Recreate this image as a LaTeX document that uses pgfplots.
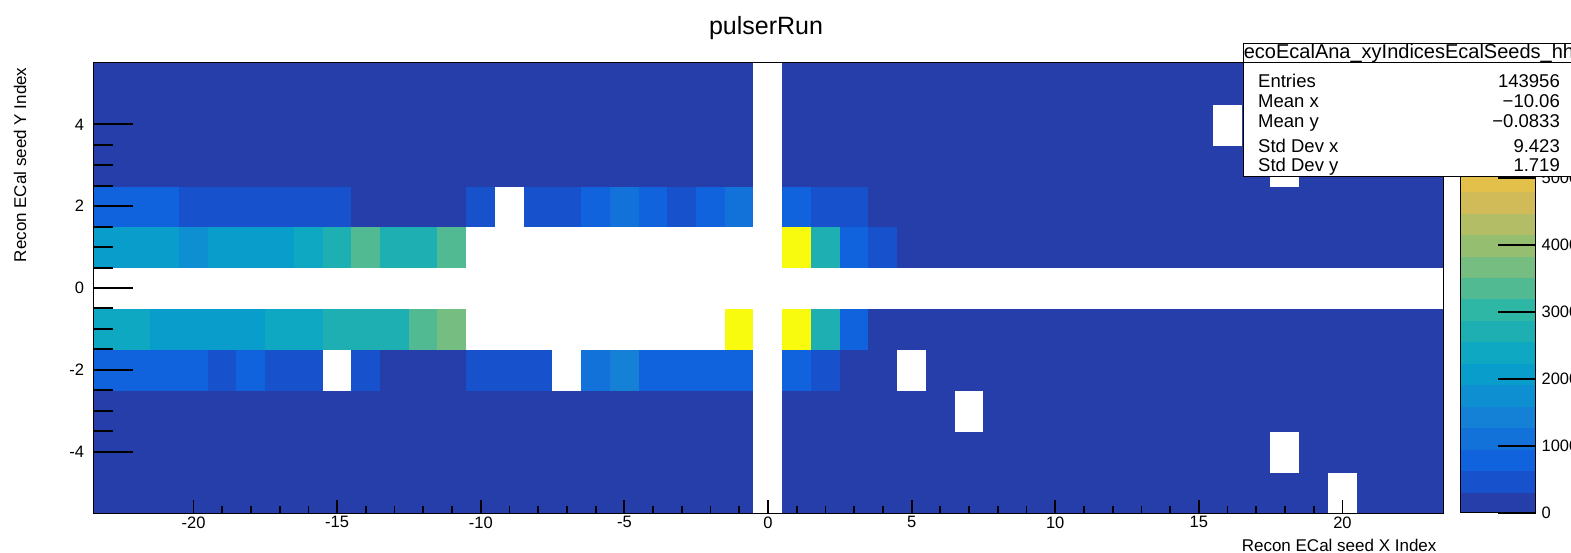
\documentclass[border=0pt]{standalone}
\usepackage{pgfplots}
\pgfplotsset{compat=1.18}
\usepackage{fontspec}
\setmainfont{Liberation Sans}
\pgfplotsset{
  /pgf/number format/1000 sep={},
  colormap={rootbird}{
    rgb=(1,1,1)
    rgb=(0.1486,0.2438,0.6649)
    rgb=(0.0890,0.3212,0.8006)
    rgb=(0.0630,0.3887,0.8624)
    rgb=(0.0705,0.4464,0.8505)
    rgb=(0.0780,0.5041,0.8385)
    rgb=(0.0561,0.5592,0.8197)
    rgb=(0.0342,0.6143,0.8008)
    rgb=(0.0546,0.6571,0.7616)
    rgb=(0.1174,0.6874,0.7021)
    rgb=(0.1802,0.7178,0.6425)
    rgb=(0.3202,0.7304,0.5720)
    rgb=(0.4601,0.7429,0.5015)
    rgb=(0.5878,0.7459,0.4429)
    rgb=(0.7032,0.7394,0.3964)
    rgb=(0.8186,0.7328,0.3499)
    rgb=(0.8894,0.7542,0.2887)
    rgb=(0.9602,0.7755,0.2274)
    rgb=(0.9918,0.8256,0.1682)
    rgb=(0.9841,0.9044,0.1111)
    rgb=(0.9764,0.9832,0.0539)
    rgb=(0.9764,0.9832,0.0539)
  }
}
\newcommand{\tickfont}{\fontsize{16.5}{18}\selectfont}
\newcommand{\labfont}{\fontsize{17}{19}\selectfont}
\newcommand{\statfont}{\fontsize{18.5}{20}\selectfont}
\begin{document}
\begin{tikzpicture}[x=1pt,y=1pt]
\begin{axis}[
  name=ax,
  scale only axis, width=1350pt, height=450pt,
  xmin=-23.5, xmax=23.5, ymin=-5.5, ymax=5.5,
  enlargelimits=false,
  axis on top,
  colormap name=rootbird, colormap access=piecewise constant,
  point meta min=-336, point meta max=6720,
  xtick={-20,-15,...,20}, minor x tick num=4,
  ytick=\empty,
  xtick pos=left, tick align=inside,
  major tick length=13pt, minor tick length=7pt,
  every tick/.style={black, line width=1.8pt},
  axis line style={black, line width=1pt},
  xticklabel style={font=\tickfont},
  /pgf/number format/assume math mode=true,
  colorbar,
  colorbar style={
    at={(parent axis.north east)}, anchor=north west, xshift=9pt,
    scale only axis, width=75pt, height=450pt,
    ymin=0, ymax=6720,
    ytick={0,1000,...,6000},
    scaled y ticks=false,
    yticklabel pos=right, ytick pos=right,
    tick align=inside,
    major tick length=38pt,
    every tick/.style={black, line width=2pt},
    axis line style={black, line width=1pt},
    yticklabel style={font=\tickfont, xshift=2.5pt},
    /pgf/number format/assume math mode=true,
    /pgf/number format/1000 sep={},
  },
]
\addplot[matrix plot*, mesh/cols=47, point meta=explicit] table[meta=c, row sep=\\] {
x y c \\
-23 -5 150 \\ -22 -5 150 \\ -21 -5 150 \\ -20 -5 150 \\ -19 -5 150 \\ -18 -5 150 \\ -17 -5 150 \\ -16 -5 150 \\ -15 -5 150 \\ -14 -5 150 \\ -13 -5 150 \\ -12 -5 150 \\ -11 -5 150 \\ -10 -5 150 \\ -9 -5 150 \\ -8 -5 150 \\ -7 -5 150 \\ -6 -5 150 \\ -5 -5 150 \\ -4 -5 150 \\ -3 -5 150 \\ -2 -5 150 \\ -1 -5 150 \\ 0 -5 -150 \\ 1 -5 150 \\ 2 -5 150 \\ 3 -5 150 \\ 4 -5 150 \\ 5 -5 150 \\ 6 -5 150 \\ 7 -5 150 \\ 8 -5 150 \\ 9 -5 150 \\ 10 -5 150 \\ 11 -5 150 \\ 12 -5 150 \\ 13 -5 150 \\ 14 -5 150 \\ 15 -5 150 \\ 16 -5 150 \\ 17 -5 150 \\ 18 -5 150 \\ 19 -5 150 \\ 20 -5 -150 \\ 21 -5 150 \\ 22 -5 150 \\ 23 -5 150 \\
-23 -4 150 \\ -22 -4 150 \\ -21 -4 150 \\ -20 -4 150 \\ -19 -4 150 \\ -18 -4 150 \\ -17 -4 150 \\ -16 -4 150 \\ -15 -4 150 \\ -14 -4 150 \\ -13 -4 150 \\ -12 -4 150 \\ -11 -4 150 \\ -10 -4 150 \\ -9 -4 150 \\ -8 -4 150 \\ -7 -4 150 \\ -6 -4 150 \\ -5 -4 150 \\ -4 -4 150 \\ -3 -4 150 \\ -2 -4 150 \\ -1 -4 150 \\ 0 -4 -150 \\ 1 -4 150 \\ 2 -4 150 \\ 3 -4 150 \\ 4 -4 150 \\ 5 -4 150 \\ 6 -4 150 \\ 7 -4 150 \\ 8 -4 150 \\ 9 -4 150 \\ 10 -4 150 \\ 11 -4 150 \\ 12 -4 150 \\ 13 -4 150 \\ 14 -4 150 \\ 15 -4 150 \\ 16 -4 150 \\ 17 -4 150 \\ 18 -4 -150 \\ 19 -4 150 \\ 20 -4 150 \\ 21 -4 150 \\ 22 -4 150 \\ 23 -4 150 \\
-23 -3 150 \\ -22 -3 150 \\ -21 -3 150 \\ -20 -3 150 \\ -19 -3 150 \\ -18 -3 150 \\ -17 -3 150 \\ -16 -3 150 \\ -15 -3 150 \\ -14 -3 150 \\ -13 -3 150 \\ -12 -3 150 \\ -11 -3 150 \\ -10 -3 150 \\ -9 -3 150 \\ -8 -3 150 \\ -7 -3 150 \\ -6 -3 150 \\ -5 -3 150 \\ -4 -3 150 \\ -3 -3 150 \\ -2 -3 150 \\ -1 -3 150 \\ 0 -3 -150 \\ 1 -3 150 \\ 2 -3 150 \\ 3 -3 150 \\ 4 -3 150 \\ 5 -3 150 \\ 6 -3 150 \\ 7 -3 -150 \\ 8 -3 150 \\ 9 -3 150 \\ 10 -3 150 \\ 11 -3 150 \\ 12 -3 150 \\ 13 -3 150 \\ 14 -3 150 \\ 15 -3 150 \\ 16 -3 150 \\ 17 -3 150 \\ 18 -3 150 \\ 19 -3 150 \\ 20 -3 150 \\ 21 -3 150 \\ 22 -3 150 \\ 23 -3 150 \\
-23 -2 850 \\ -22 -2 850 \\ -21 -2 850 \\ -20 -2 850 \\ -19 -2 500 \\ -18 -2 850 \\ -17 -2 500 \\ -16 -2 500 \\ -15 -2 -150 \\ -14 -2 500 \\ -13 -2 150 \\ -12 -2 150 \\ -11 -2 150 \\ -10 -2 500 \\ -9 -2 500 \\ -8 -2 500 \\ -7 -2 -150 \\ -6 -2 1150 \\ -5 -2 1500 \\ -4 -2 850 \\ -3 -2 850 \\ -2 -2 850 \\ -1 -2 850 \\ 0 -2 -150 \\ 1 -2 850 \\ 2 -2 500 \\ 3 -2 150 \\ 4 -2 150 \\ 5 -2 -150 \\ 6 -2 150 \\ 7 -2 150 \\ 8 -2 150 \\ 9 -2 150 \\ 10 -2 150 \\ 11 -2 150 \\ 12 -2 150 \\ 13 -2 150 \\ 14 -2 150 \\ 15 -2 150 \\ 16 -2 150 \\ 17 -2 150 \\ 18 -2 150 \\ 19 -2 150 \\ 20 -2 150 \\ 21 -2 150 \\ 22 -2 150 \\ 23 -2 150 \\
-23 -1 2500 \\ -22 -1 2500 \\ -21 -1 2200 \\ -20 -1 2200 \\ -19 -1 2200 \\ -18 -1 2200 \\ -17 -1 2500 \\ -16 -1 2500 \\ -15 -1 2850 \\ -14 -1 2850 \\ -13 -1 2850 \\ -12 -1 3200 \\ -11 -1 3550 \\ -10 -1 -150 \\ -9 -1 -150 \\ -8 -1 -150 \\ -7 -1 -150 \\ -6 -1 -150 \\ -5 -1 -150 \\ -4 -1 -150 \\ -3 -1 -150 \\ -2 -1 -150 \\ -1 -1 6600 \\ 0 -1 -150 \\ 1 -1 6600 \\ 2 -1 2850 \\ 3 -1 850 \\ 4 -1 150 \\ 5 -1 150 \\ 6 -1 150 \\ 7 -1 150 \\ 8 -1 150 \\ 9 -1 150 \\ 10 -1 150 \\ 11 -1 150 \\ 12 -1 150 \\ 13 -1 150 \\ 14 -1 150 \\ 15 -1 150 \\ 16 -1 150 \\ 17 -1 150 \\ 18 -1 150 \\ 19 -1 150 \\ 20 -1 150 \\ 21 -1 150 \\ 22 -1 150 \\ 23 -1 150 \\
-23 0 -150 \\ -22 0 -150 \\ -21 0 -150 \\ -20 0 -150 \\ -19 0 -150 \\ -18 0 -150 \\ -17 0 -150 \\ -16 0 -150 \\ -15 0 -150 \\ -14 0 -150 \\ -13 0 -150 \\ -12 0 -150 \\ -11 0 -150 \\ -10 0 -150 \\ -9 0 -150 \\ -8 0 -150 \\ -7 0 -150 \\ -6 0 -150 \\ -5 0 -150 \\ -4 0 -150 \\ -3 0 -150 \\ -2 0 -150 \\ -1 0 -150 \\ 0 0 -150 \\ 1 0 -150 \\ 2 0 -150 \\ 3 0 -150 \\ 4 0 -150 \\ 5 0 -150 \\ 6 0 -150 \\ 7 0 -150 \\ 8 0 -150 \\ 9 0 -150 \\ 10 0 -150 \\ 11 0 -150 \\ 12 0 -150 \\ 13 0 -150 \\ 14 0 -150 \\ 15 0 -150 \\ 16 0 -150 \\ 17 0 -150 \\ 18 0 -150 \\ 19 0 -150 \\ 20 0 -150 \\ 21 0 -150 \\ 22 0 -150 \\ 23 0 -150 \\
-23 1 2200 \\ -22 1 2200 \\ -21 1 2200 \\ -20 1 1850 \\ -19 1 2200 \\ -18 1 2200 \\ -17 1 2200 \\ -16 1 2500 \\ -15 1 2850 \\ -14 1 3200 \\ -13 1 2850 \\ -12 1 2850 \\ -11 1 3200 \\ -10 1 -150 \\ -9 1 -150 \\ -8 1 -150 \\ -7 1 -150 \\ -6 1 -150 \\ -5 1 -150 \\ -4 1 -150 \\ -3 1 -150 \\ -2 1 -150 \\ -1 1 -150 \\ 0 1 -150 \\ 1 1 6600 \\ 2 1 2850 \\ 3 1 850 \\ 4 1 500 \\ 5 1 150 \\ 6 1 150 \\ 7 1 150 \\ 8 1 150 \\ 9 1 150 \\ 10 1 150 \\ 11 1 150 \\ 12 1 150 \\ 13 1 150 \\ 14 1 150 \\ 15 1 150 \\ 16 1 150 \\ 17 1 150 \\ 18 1 150 \\ 19 1 150 \\ 20 1 150 \\ 21 1 150 \\ 22 1 150 \\ 23 1 150 \\
-23 2 850 \\ -22 2 850 \\ -21 2 850 \\ -20 2 500 \\ -19 2 500 \\ -18 2 500 \\ -17 2 500 \\ -16 2 500 \\ -15 2 500 \\ -14 2 150 \\ -13 2 150 \\ -12 2 150 \\ -11 2 150 \\ -10 2 500 \\ -9 2 -150 \\ -8 2 500 \\ -7 2 500 \\ -6 2 850 \\ -5 2 1150 \\ -4 2 850 \\ -3 2 500 \\ -2 2 850 \\ -1 2 1150 \\ 0 2 -150 \\ 1 2 850 \\ 2 2 500 \\ 3 2 500 \\ 4 2 150 \\ 5 2 150 \\ 6 2 150 \\ 7 2 150 \\ 8 2 150 \\ 9 2 150 \\ 10 2 150 \\ 11 2 150 \\ 12 2 150 \\ 13 2 150 \\ 14 2 150 \\ 15 2 150 \\ 16 2 150 \\ 17 2 150 \\ 18 2 150 \\ 19 2 150 \\ 20 2 150 \\ 21 2 150 \\ 22 2 150 \\ 23 2 150 \\
-23 3 150 \\ -22 3 150 \\ -21 3 150 \\ -20 3 150 \\ -19 3 150 \\ -18 3 150 \\ -17 3 150 \\ -16 3 150 \\ -15 3 150 \\ -14 3 150 \\ -13 3 150 \\ -12 3 150 \\ -11 3 150 \\ -10 3 150 \\ -9 3 150 \\ -8 3 150 \\ -7 3 150 \\ -6 3 150 \\ -5 3 150 \\ -4 3 150 \\ -3 3 150 \\ -2 3 150 \\ -1 3 150 \\ 0 3 -150 \\ 1 3 150 \\ 2 3 150 \\ 3 3 150 \\ 4 3 150 \\ 5 3 150 \\ 6 3 150 \\ 7 3 150 \\ 8 3 150 \\ 9 3 150 \\ 10 3 150 \\ 11 3 150 \\ 12 3 150 \\ 13 3 150 \\ 14 3 150 \\ 15 3 150 \\ 16 3 150 \\ 17 3 150 \\ 18 3 -150 \\ 19 3 150 \\ 20 3 150 \\ 21 3 150 \\ 22 3 150 \\ 23 3 150 \\
-23 4 150 \\ -22 4 150 \\ -21 4 150 \\ -20 4 150 \\ -19 4 150 \\ -18 4 150 \\ -17 4 150 \\ -16 4 150 \\ -15 4 150 \\ -14 4 150 \\ -13 4 150 \\ -12 4 150 \\ -11 4 150 \\ -10 4 150 \\ -9 4 150 \\ -8 4 150 \\ -7 4 150 \\ -6 4 150 \\ -5 4 150 \\ -4 4 150 \\ -3 4 150 \\ -2 4 150 \\ -1 4 150 \\ 0 4 -150 \\ 1 4 150 \\ 2 4 150 \\ 3 4 150 \\ 4 4 150 \\ 5 4 150 \\ 6 4 150 \\ 7 4 150 \\ 8 4 150 \\ 9 4 150 \\ 10 4 150 \\ 11 4 150 \\ 12 4 150 \\ 13 4 150 \\ 14 4 150 \\ 15 4 150 \\ 16 4 -150 \\ 17 4 150 \\ 18 4 150 \\ 19 4 150 \\ 20 4 150 \\ 21 4 150 \\ 22 4 150 \\ 23 4 150 \\
-23 5 150 \\ -22 5 150 \\ -21 5 150 \\ -20 5 150 \\ -19 5 150 \\ -18 5 150 \\ -17 5 150 \\ -16 5 150 \\ -15 5 150 \\ -14 5 150 \\ -13 5 150 \\ -12 5 150 \\ -11 5 150 \\ -10 5 150 \\ -9 5 150 \\ -8 5 150 \\ -7 5 150 \\ -6 5 150 \\ -5 5 150 \\ -4 5 150 \\ -3 5 150 \\ -2 5 150 \\ -1 5 150 \\ 0 5 -150 \\ 1 5 150 \\ 2 5 150 \\ 3 5 150 \\ 4 5 150 \\ 5 5 150 \\ 6 5 150 \\ 7 5 150 \\ 8 5 150 \\ 9 5 150 \\ 10 5 150 \\ 11 5 150 \\ 12 5 150 \\ 13 5 150 \\ 14 5 150 \\ 15 5 150 \\ 16 5 150 \\ 17 5 150 \\ 18 5 150 \\ 19 5 150 \\ 20 5 150 \\ 21 5 150 \\ 22 5 150 \\ 23 5 150 \\
};
\end{axis}
\begin{axis}[
  at={(ax.south west)}, anchor=south west,
  scale only axis, width=1350pt, height=450pt,
  xmin=-23.5, xmax=23.5, ymin=-5.5, ymax=5.5,
  hide x axis,
  axis line style={draw=none},
  ytick={-4,-2,...,4}, minor y tick num=3,
  ytick pos=left, tick align=inside,
  major tick length=40pt, minor tick length=20pt,
  every tick/.style={black, line width=2pt},
  yticklabel style={font=\tickfont, xshift=-5.5pt},
  /pgf/number format/assume math mode=true,
]
\end{axis}
\begin{scope}[shift={(ax.south west)}]
\node[font=\fontsize{25}{28}\selectfont, anchor=base] at (673,478) {pulserRun};
\node[font=\labfont, rotate=90, anchor=east] at (-73,449) {Recon ECal seed Y Index};
\node[font=\labfont, anchor=east] at (1347,-32) {Recon ECal seed X Index};
% stats box
\filldraw[fill=white, draw=black, line width=1pt] (1150,336) rectangle (1497,469);
\begin{scope}
\clip (1150,450) rectangle (1497,469);
\node[font=\fontsize{20}{22}\selectfont, anchor=base west, inner sep=0pt] at (1144,454) {recoEcalAna\_xyIndicesEcalSeeds\_hh};
\end{scope}
\draw[black, line width=1pt] (1150,450) -- (1497,450);
\node[font=\statfont, anchor=base west, inner sep=0pt] at (1165,425) {Entries};
\node[font=\statfont, anchor=base west, inner sep=0pt] at (1165,405) {Mean x};
\node[font=\statfont, anchor=base west, inner sep=0pt] at (1165,385) {Mean y};
\node[font=\statfont, anchor=base west, inner sep=0pt] at (1165,360) {Std Dev x};
\node[font=\statfont, anchor=base west, inner sep=0pt] at (1165,341.5) {Std Dev y};
\node[font=\statfont, anchor=base east, inner sep=0pt] at (1467,425) {143956};
\node[font=\statfont, anchor=base east, inner sep=0pt] at (1467,405) {−10.06};
\node[font=\statfont, anchor=base east, inner sep=0pt] at (1467,385) {−0.0833};
\node[font=\statfont, anchor=base east, inner sep=0pt] at (1467,360) {9.423};
\node[font=\statfont, anchor=base east, inner sep=0pt] at (1467,341.5) {1.719};
\end{scope}
\pgfresetboundingbox
\path[use as bounding box, shift={(ax.south west)}] (-93,-39) rectangle (1478,513);
\end{tikzpicture}
\end{document}
